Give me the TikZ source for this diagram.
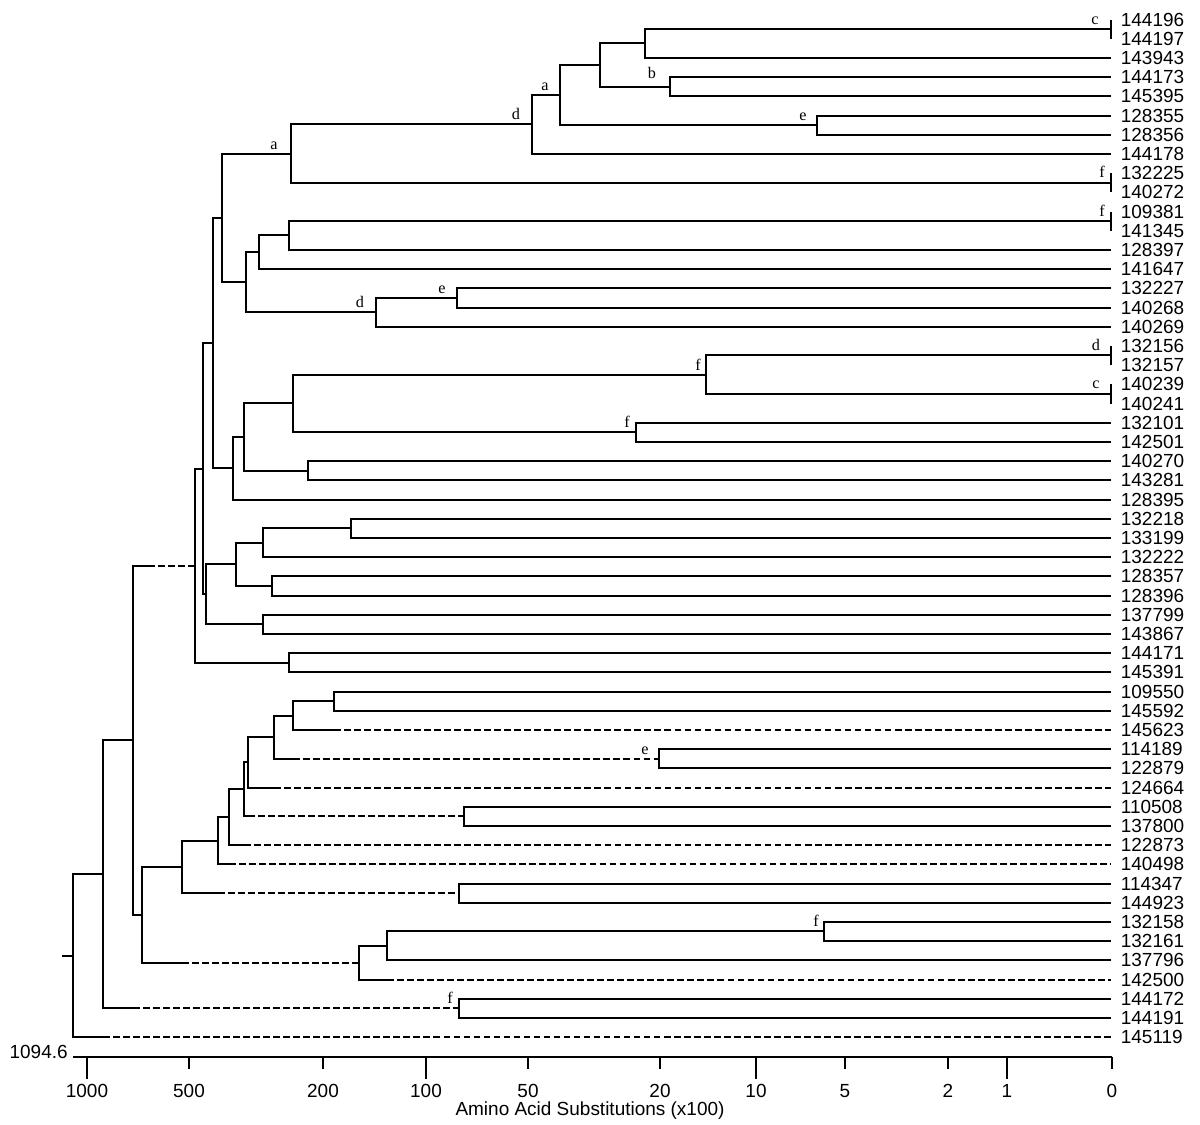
\documentclass[tikz,border=0pt]{standalone}
\usepackage{fontspec}
\setmainfont{Liberation Sans}
\newfontfamily\tagfont{Liberation Serif}
\usepackage{tikz}
\usetikzlibrary{calc}
\tikzset{
  branch/.style={line width=0.04cm},
  gapline/.style={branch, dash pattern=on 3.8pt off 1.9pt},
  leaflabel/.style={anchor=west, inner sep=0pt, xshift=0.19cm,
                    font=\fontsize{10.8}{12}\selectfont},
  ticklabel/.style={inner sep=0pt, font=\fontsize{10.8}{12}\selectfont},
  tag/.style={anchor=base, inner sep=0pt, font=\tagfont\fontsize{9.2}{9.2}\selectfont}
}

\begin{document}
\begin{tikzpicture}[x=0.02cm, y=-0.02cm]
  \useasboundingbox (0,0) rectangle (1200,1125);

  % leaves
  \foreach \id [count=\i from 0] in {144196,144197,143943,144173,145395,128355,
      128356,144178,132225,140272,109381,141345,128397,141647,132227,140268,
      140269,132156,132157,140239,140241,132101,142501,140270,143281,128395,
      132218,133199,132222,128357,128396,137799,143867,144171,145391,109550,
      145592,145623,114189,122879,124664,110508,137800,122873,140498,114347,
      144923,132158,132161,137796,142500,144172,144191,145119}{
    \coordinate (L\i) at (1111,{round(19.55+19.2*\i)});
    \node[leaflabel] (lab\i) at (L\i) {\id};
  }

  % inner nodes, upper group
  \coordinate (cA) at (1111,29);
  \coordinate (n645) at (645,43);
  \coordinate (bB) at (670,87);
  \coordinate (n600) at (600,65);
  \coordinate (eA) at (817,125);
  \coordinate (aB) at (560,95);
  \coordinate (dA) at (532,124);
  \coordinate (fA) at (1111,183);
  \coordinate (aA) at (291,154);
  \coordinate (fB) at (1111,221);
  \coordinate (n289) at (289,235);
  \coordinate (n259) at (259,252);
  \coordinate (eB) at (457,298);
  \coordinate (dB) at (376,312);
  \coordinate (n246) at (246,282);
  \coordinate (n222) at (222,218);
  \coordinate (dC) at (1111,355);
  \coordinate (cB) at (1111,394);
  \coordinate (fC) at (706,375);
  \coordinate (fD) at (636,432);
  \coordinate (n293) at (293,403);
  \coordinate (n308) at (308,471);
  \coordinate (n244) at (244,437);
  \coordinate (n233) at (233,468);
  \coordinate (n213) at (213,343);
  \coordinate (n351) at (351,528);
  \coordinate (n263a) at (263,543);
  \coordinate (n272) at (272,586);
  \coordinate (n236) at (236,564);
  \coordinate (n263b) at (263,624);
  \coordinate (n206) at (206,594);
  \coordinate (n203) at (203,469);
  \coordinate (n289b) at (289,663);
  \coordinate (n195) at (195,566);

  % inner nodes, lower group
  \coordinate (n334) at (334,701);
  \coordinate (n293b) at (293,716);
  \coordinate (eC) at (659,759);
  \coordinate (n274) at (274,737);
  \coordinate (n248) at (248,762);
  \coordinate (n464) at (464,816);
  \coordinate (n244b) at (244,789);
  \coordinate (n229) at (229,817);
  \coordinate (n218) at (218,841);
  \coordinate (n459) at (459,893);
  \coordinate (n182) at (182,867);
  \coordinate (fE) at (824,931);
  \coordinate (n387) at (387,946);
  \coordinate (n359) at (359,963);
  \coordinate (n142) at (142,915);
  \coordinate (s195) at (148,566);
  \coordinate (n133) at (133,740);
  \coordinate (fF) at (459,1008);
  \coordinate (n103) at (103,874);
  \coordinate (root) at (73,956);
  \coordinate (stub) at (62,956);

  % upper group
  \draw[branch] (L0) -| (cA) |- (L1);
  \draw[branch] (cA) -| (n645) |- (L2);
  \draw[branch] (L3) -| (bB) |- (L4);
  \draw[branch] (n645) -| (n600) |- (bB);
  \draw[branch] (L5) -| (eA) |- (L6);
  \draw[branch] (n600) -| (aB) |- (eA);
  \draw[branch] (aB) -| (dA) |- (L7);
  \draw[branch] (L8) -| (fA) |- (L9);
  \draw[branch] (dA) -| (aA) |- (fA);
  \draw[branch] (L10) -| (fB) |- (L11);
  \draw[branch] (fB) -| (n289) |- (L12);
  \draw[branch] (n289) -| (n259) |- (L13);
  \draw[branch] (L14) -| (eB) |- (L15);
  \draw[branch] (eB) -| (dB) |- (L16);
  \draw[branch] (n259) -| (n246) |- (dB);
  \draw[branch] (aA) -| (n222) |- (n246);
  \draw[branch] (L17) -| (dC) |- (L18);
  \draw[branch] (L19) -| (cB) |- (L20);
  \draw[branch] (dC) -| (fC) |- (cB);
  \draw[branch] (L21) -| (fD) |- (L22);
  \draw[branch] (fC) -| (n293) |- (fD);
  \draw[branch] (L23) -| (n308) |- (L24);
  \draw[branch] (n293) -| (n244) |- (n308);
  \draw[branch] (n244) -| (n233) |- (L25);
  \draw[branch] (n222) -| (n213) |- (n233);
  \draw[branch] (L26) -| (n351) |- (L27);
  \draw[branch] (n351) -| (n263a) |- (L28);
  \draw[branch] (L29) -| (n272) |- (L30);
  \draw[branch] (n263a) -| (n236) |- (n272);
  \draw[branch] (L31) -| (n263b) |- (L32);
  \draw[branch] (n236) -| (n206) |- (n263b);
  \draw[branch] (n213) -| (n203) |- (n206);
  \draw[branch] (L33) -| (n289b) |- (L34);
  \draw[branch] (n203) -| (n195) |- (n289b);

  % lower group
  \draw[branch] (L35) -| (n334) |- (L36);
  \draw[branch] (n334) -| (n293b) |- (n334 |- L37);
  \draw[gapline] (n334 |- L37) -- (L37);
  \draw[branch] (L38) -| (eC) |- (L39);
  \draw[branch] (n293b) -| (n274) |- (n293b |- eC);
  \draw[gapline] (n293b |- eC) -- (eC);
  \draw[branch] (n274) -| (n248) |- (n274 |- L40);
  \draw[gapline] (n274 |- L40) -- (L40);
  \draw[branch] (L41) -| (n464) |- (L42);
  \draw[branch] (n248) -| (n244b) |- (n248 |- n464);
  \draw[gapline] (n248 |- n464) -- (n464);
  \draw[branch] (n244b) -| (n229) |- (n244b |- L43);
  \draw[gapline] (n244b |- L43) -- (L43);
  \draw[branch] (n229) -| (n218) |- (n229 |- L44);
  \draw[gapline] (n229 |- L44) -- (L44);
  \draw[branch] (L45) -| (n459) |- (L46);
  \draw[branch] (n218) -| (n182) |- (n218 |- n459);
  \draw[gapline] (n218 |- n459) -- (n459);
  \draw[branch] (L47) -| (fE) |- (L48);
  \draw[branch] (fE) -| (n387) |- (L49);
  \draw[branch] (n387) -| (n359) |- (n387 |- L50);
  \draw[gapline] (n387 |- L50) -- (L50);
  \draw[branch] (n182) -| (n142) |- (n182 |- n359);
  \draw[gapline] (n182 |- n359) -- (n359);
  \draw[branch] (s195) -| (n133) |- (n142);
  \draw[gapline] (s195) -- (n195);
  \draw[branch] (L51) -| (fF) |- (L52);
  \draw[branch] (n133) -| (n103) |- (n133 |- fF);
  \draw[gapline] (n133 |- fF) -- (fF);
  \draw[branch] (n103) -| (root) |- (n103 |- L53);
  \draw[gapline] (n103 |- L53) -- (L53);
  \draw[branch] (stub) -- (root);

  % letter tags
  \node[tag] (tgaA) at ($(aA)+(-17,-4.5)$) {a};
  \node[tag] (tgdA) at ($(dA)+(-16,-4.5)$) {d};
  \node[tag] (tgaB) at ($(aB)+(-15,-4.5)$) {a};
  \node[tag] (tgbB) at ($(bB)+(-18,-8)$) {b};
  \node[tag] (tgeA) at ($(eA)+(-14,-4.5)$) {e};
  \node[tag] (tgcA) at ($(L0)+(-16,4.5)$) {c};
  \node[tag] (tgfA) at ($(L8)+(-9,4.5)$) {f};
  \node[tag] (tgfB) at ($(L10)+(-9,4.5)$) {f};
  \node[tag] (tgdB) at ($(dB)+(-16,-4.5)$) {d};
  \node[tag] (tgeB) at ($(eB)+(-15,-4.5)$) {e};
  \node[tag] (tgdC) at ($(L17)+(-15,4.5)$) {d};
  \node[tag] (tgfC) at ($(fC)+(-8,-4.5)$) {f};
  \node[tag] (tgcB) at ($(L19)+(-15,4.5)$) {c};
  \node[tag] (tgfD) at ($(fD)+(-9,-4.5)$) {f};
  \node[tag] (tgeC) at ($(eC)+(-14,-4.5)$) {e};
  \node[tag] (tgfE) at ($(fE)+(-8,-4.5)$) {f};
  \node[tag] (tgfF) at ($(fF)+(-9,-4.5)$) {f};

  % axis
  \coordinate (axL) at (73,1057);
  \coordinate (axR) at (1112,1057);
  \draw[branch] (axL) -- (axR);
  \foreach \x/\v/\len in {87/1000/22, 189/500/12, 323/200/12,
      426/100/22, 528/50/12, 660/20/12, 756/10/22,
      845/5/12, 948/2/12, 1007/1/22, 1112/0/12}{
    \draw[branch] (\x,1057) -- ++(0,\len);
    \node[ticklabel] (tk\v) at (\x,1091) {\v};
  }
  \node[ticklabel, anchor=east] (scalemax) at (68,1052) {1094.6};
  \node[ticklabel, anchor=base] (axtitle) at (590,1115) {Amino Acid Substitutions (x100)};
\end{tikzpicture}
\end{document}
